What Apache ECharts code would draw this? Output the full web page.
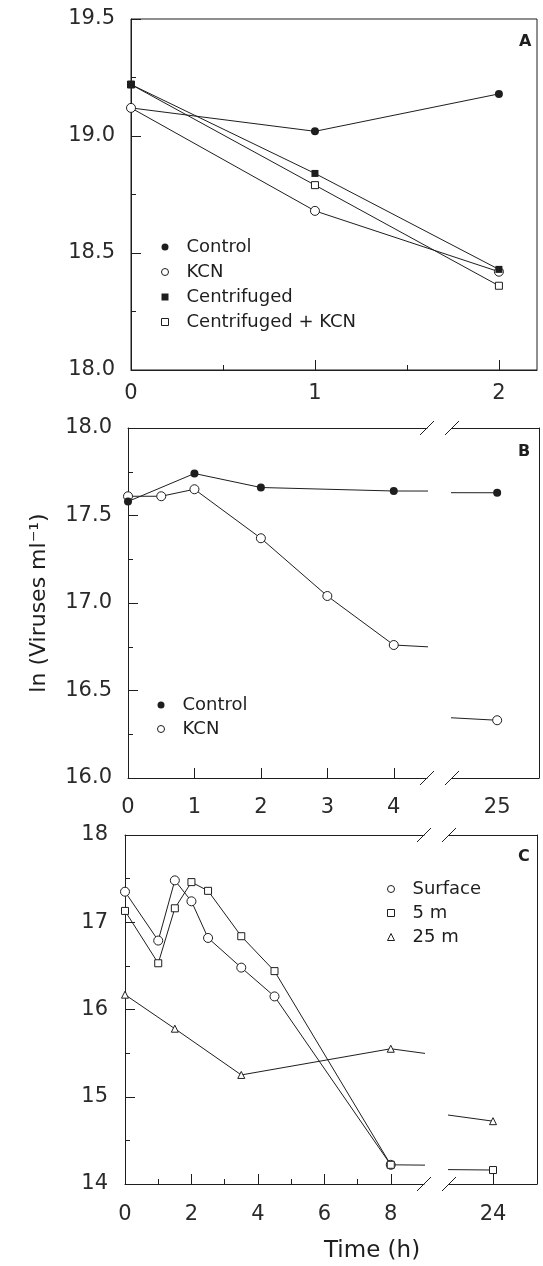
<!DOCTYPE html>
<html>
<head>
<meta charset="utf-8">
<script src="https://cdn.jsdelivr.net/npm/echarts@6/dist/echarts.min.js"></script>
<style>
  html, body { margin: 0; padding: 0; background: #fff; }
  #chart { width: 543px; height: 1266px; }
</style>
</head>
<body>
<div id="chart"></div>
<script>
// ---- data (ln viruses per ml vs time in h) ----
// panel A
const timeA = [0, 1, 2];
const controlA = [19.12, 19.02, 19.18];
const kcnA = [19.12, 18.68, 18.42];
const centA = [19.22, 18.84, 18.43];
const centKcnA = [19.22, 18.79, 18.36];

// panel B
const timeControlB = [0, 1, 2, 4, 25];
const controlB = [17.58, 17.74, 17.66, 17.64, 17.63];
const timeKcnB = [0, 0.5, 1, 2, 3, 4, 25];
const kcnB = [17.61, 17.61, 17.65, 17.37, 17.04, 16.76, 16.33];

// panel C
const timeSurface = [0, 1, 1.5, 2, 2.5, 3.5, 4.5, 8];
const surface = [17.35, 16.79, 17.48, 17.24, 16.82, 16.48, 16.15, 14.22];
const time5m = [0, 1, 1.5, 2, 2.5, 3.5, 4.5, 8, 24];
const depth5m = [17.13, 16.53, 17.16, 17.46, 17.36, 16.84, 16.44, 14.22, 14.16];
const time25m = [0, 1.5, 3.5, 8, 24];
const depth25m = [16.17, 15.78, 15.25, 15.55, 14.72];

// tick labels
const xTicksA = [0, 1, 2];
const xMinorA = [0.5, 1.5];
const xTicksB = [0, 1, 2, 3, 4];
const xFarB = [25];
const xTicksC = [0, 2, 4, 6, 8];
const xMinorC = [1, 3, 5, 7];
const xFarC = [24];

// ---- layout ----
const INK = '#1e1e1e';
const FONT = 'DejaVu Sans';
const G = {
  A:  { left: 131, top: 19,  width: 406, height: 351 },
  Bl: { left: 128, top: 428, width: 299, height: 350 },
  Br: { left: 452, top: 428, width: 87,  height: 350 },
  Cl: { left: 125, top: 835, width: 299, height: 349 },
  Cr: { left: 449, top: 835, width: 88,  height: 349 }
};

const pair = (xs, ys) => xs.map((x, i) => [x, ys[i]]);

const MARK = {
  fCircle: { symbol: 'circle', size: 8, item: { color: INK, borderColor: INK, borderWidth: 0 } },
  oCircle: { symbol: 'circle', size: 9, item: { color: '#fff', borderColor: INK, borderWidth: 1 } },
  fSquare: { symbol: 'rect', size: 7, item: { color: INK, borderColor: INK, borderWidth: 0 } },
  oSquare: { symbol: 'rect', size: 7, item: { color: '#fff', borderColor: INK, borderWidth: 1 } },
  oTri:    { symbol: 'triangle', size: 7, item: { color: '#fff', borderColor: INK, borderWidth: 1 } }
};

function xAxisOf(grid, min, max, o = {}) {
  return {
    type: 'value', gridIndex: grid, min: min, max: max,
    position: o.position || 'bottom',
    splitLine: { show: false },
    axisLine: { show: o.line !== false, onZero: false, lineStyle: { color: INK, width: 1 } },
    axisTick: { show: !!o.ticks, inside: true, length: o.tickLen || 10, customValues: o.ticks, lineStyle: { color: INK } },
    minorTick: { show: false },
    axisLabel: { show: !!o.labels, customValues: o.labels, margin: o.margin || 14, fontSize: 21, fontFamily: FONT, color: '#2a2a2a' }
  };
}

function yAxisOf(grid, min, max, o = {}) {
  return Object.assign({
    type: 'value', gridIndex: grid, min: min, max: max, interval: o.interval,
    position: o.position || 'left',
    splitLine: { show: false },
    axisLine: { show: true, onZero: false, lineStyle: { color: INK, width: 1 } },
    axisTick: { show: !!o.interval, inside: true, length: 10, lineStyle: { color: INK } },
    minorTick: { show: !!o.interval, splitNumber: 2, length: 5, lineStyle: { color: INK } },
    axisLabel: { show: !!o.interval, formatter: o.fmt, margin: o.margin || 16, fontSize: 21, fontFamily: FONT, color: '#2a2a2a' }
  }, o.extra || {});
}

function line(name, xs, ys, mark, xi, yi) {
  return {
    type: 'line', name: name, xAxisIndex: xi, yAxisIndex: yi,
    data: pair(xs, ys),
    symbol: mark.symbol, symbolSize: mark.size, showSymbol: true,
    itemStyle: mark.item,
    lineStyle: { color: INK, width: 1 },
    clip: true, animation: false
  };
}

function legendOf(items, left, top, gap) {
  return {
    orient: 'vertical', left: left, top: top, padding: 0,
    itemGap: gap, itemWidth: 7, itemHeight: 7, selectedMode: false,
    textStyle: { fontSize: 18, fontFamily: FONT, color: INK, lineHeight: 18, padding: [0, 0, 0, 13] },
    data: items.map(([name, m]) => ({ name: name, icon: m.symbol, itemStyle: m.item }))
  };
}

// "//" marks where the time axis is broken
function breakMarks(gl, gr) {
  const els = [];
  [gl.top, gl.top + gl.height].forEach(y => {
    [gl.left + gl.width, gr.left].forEach(x => {
      els.push({ type: 'line', shape: { x1: x - 7, y1: y + 7, x2: x + 7, y2: y - 7 }, style: { stroke: INK, lineWidth: 1 } });
    });
  });
  return els;
}

const oneDec = v => v.toFixed(1);

const option = {
  backgroundColor: '#fff',
  animation: false,
  grid: [
    Object.assign({ show: true, borderColor: INK, borderWidth: 1 }, G.A),
    G.Bl, G.Br, G.Cl, G.Cr
  ].map(g => Object.assign({ outerBoundsMode: 'none' }, g)),
  xAxis: [
    xAxisOf(0, 0, 2.207, { ticks: xTicksA, labels: xTicksA, margin: 13 }),      // 0
    xAxisOf(0, 0, 2.207, { line: false, ticks: xMinorA, tickLen: 5 }),          // 1
    xAxisOf(1, 0, 4.5, { ticks: xTicksB, labels: xTicksB, margin: 19 }),         // 2
    xAxisOf(1, 0, 4.5, { position: 'top' }),                                     // 3
    xAxisOf(2, 24.32, 25.63, { labels: xFarB, margin: 19 }),                     // 4
    xAxisOf(2, 24.32, 25.63, { position: 'top' }),                               // 5
    xAxisOf(3, 0, 9, { ticks: xTicksC, labels: xTicksC, margin: 20 }),          // 6
    xAxisOf(3, 0, 9, { line: false, ticks: xMinorC, tickLen: 5 }),              // 7
    xAxisOf(3, 0, 9, { position: 'top' }),                                       // 8
    xAxisOf(4, 22.67, 25.33, { ticks: xFarC, labels: xFarC, margin: 20, tickLen: 12 }), // 9
    xAxisOf(4, 22.67, 25.33, { position: 'top' })                                // 10
  ],
  yAxis: [
    yAxisOf(0, 18, 19.5, { interval: 0.5, fmt: oneDec, margin: 16 }),
    yAxisOf(1, 16, 18, { interval: 0.5, fmt: oneDec, margin: 16, extra: {
      name: 'ln (Viruses ml\u207B\u00B9)', nameLocation: 'middle', nameRotate: 90, nameGap: 78,
      nameTextStyle: { fontSize: 22, fontFamily: FONT, color: INK }
    } }),
    yAxisOf(2, 16, 18, { position: 'right' }),
    yAxisOf(3, 14, 18, { interval: 1, fmt: v => String(v), margin: 17 }),
    yAxisOf(4, 14, 18, { position: 'right' })
  ],
  legend: [
    legendOf([['Control', MARK.fCircle], ['KCN', MARK.oCircle], ['Centrifuged', MARK.fSquare], ['Centrifuged + KCN', MARK.oSquare]], 161, 238, 7),
    legendOf([['Control', MARK.fCircle], ['KCN', MARK.oCircle]], 157, 696, 6),
    legendOf([['Surface', MARK.oCircle], ['5 m', MARK.oSquare], ['25 m', MARK.oTri]], 387, 880, 6)
  ],
  series: [
    line('Control', timeA, controlA, MARK.fCircle, 0, 0),
    line('KCN', timeA, kcnA, MARK.oCircle, 0, 0),
    line('Centrifuged + KCN', timeA, centKcnA, MARK.oSquare, 0, 0),
    line('Centrifuged', timeA, centA, MARK.fSquare, 0, 0),

    line('KCN', timeKcnB, kcnB, MARK.oCircle, 2, 1),
    line('Control', timeControlB, controlB, MARK.fCircle, 2, 1),
    line('KCN', timeKcnB, kcnB, MARK.oCircle, 4, 2),
    line('Control', timeControlB, controlB, MARK.fCircle, 4, 2),

    line('Surface', timeSurface, surface, MARK.oCircle, 6, 3),
    line('5 m', time5m, depth5m, MARK.oSquare, 6, 3),
    line('25 m', time25m, depth25m, MARK.oTri, 6, 3),
    line('5 m', time5m, depth5m, MARK.oSquare, 9, 4),
    line('25 m', time25m, depth25m, MARK.oTri, 9, 4)
  ],
  graphic: [
    { type: 'text', left: 519, top: 34, style: { text: 'A', font: 'bold 16px "DejaVu Sans"', fill: INK } },
    { type: 'text', left: 518, top: 444, style: { text: 'B', font: 'bold 16px "DejaVu Sans"', fill: INK } },
    { type: 'text', left: 518, top: 849, style: { text: 'C', font: 'bold 16px "DejaVu Sans"', fill: INK } },
    { type: 'text', left: 324, top: 1240, style: { text: 'Time (h)', font: '23px "DejaVu Sans"', fill: INK } }
  ].concat(breakMarks(G.Bl, G.Br), breakMarks(G.Cl, G.Cr))
};

const chart = echarts.init(document.getElementById('chart'), null, { renderer: 'canvas' });
chart.setOption(option);
</script>
</body>
</html>
